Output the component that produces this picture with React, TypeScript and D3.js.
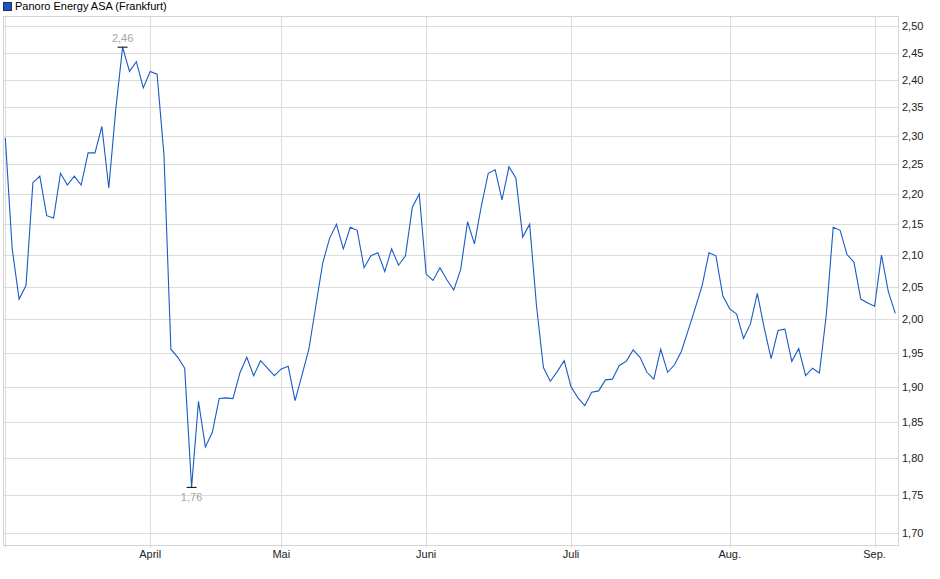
import React from 'react';
import * as d3 from 'd3';

// daily closing prices (EUR), Frankfurt
const prices: number[] = [
  2.296, 2.11, 2.031, 2.052, 2.219, 2.23, 2.164, 2.16, 2.235, 2.215,
  2.23, 2.215, 2.27, 2.27, 2.316, 2.21, 2.345, 2.46, 2.415, 2.433,
  2.385, 2.415, 2.41, 2.266, 1.955, 1.943, 1.927, 1.76, 1.879, 1.815,
  1.835, 1.883, 1.884, 1.883, 1.92, 1.943, 1.916, 1.938, 1.927, 1.916,
  1.926, 1.93, 1.88, 1.917, 1.955, 2.02, 2.087, 2.127, 2.15, 2.11,
  2.145, 2.14, 2.08, 2.099, 2.104, 2.074, 2.11, 2.084, 2.099, 2.178,
  2.2, 2.07, 2.06, 2.08, 2.061, 2.045, 2.077, 2.154, 2.118, 2.18,
  2.235, 2.241, 2.19, 2.246, 2.227, 2.129, 2.15, 2.02, 1.928, 1.908,
  1.922, 1.938, 1.9, 1.884, 1.873, 1.892, 1.894, 1.91, 1.911, 1.931,
  1.937, 1.954, 1.943, 1.921, 1.911, 1.955, 1.921, 1.932, 1.952, 1.984,
  2.017, 2.052, 2.104, 2.099, 2.036, 2.016, 2.008, 1.971, 1.993, 2.04,
  1.987, 1.941, 1.983, 1.985, 1.937, 1.956, 1.916, 1.927, 1.92, 2.007,
  2.145, 2.14, 2.101, 2.089, 2.031, 2.025, 2.02, 2.1, 2.042, 2.009,
];

// first trading day of each month (index into prices)
const monthIndex: number[] = [0, 21, 40, 61, 82, 105, 126];
const monthLabels: string[] = ['', 'April', 'Mai', 'Juni', 'Juli', 'Aug.', 'Sep.'];

const yTicks: number[] = [
  1.7, 1.75, 1.8, 1.85, 1.9, 1.95, 2.0, 2.05, 2.1, 2.15, 2.2, 2.25, 2.3, 2.35, 2.4, 2.45, 2.5,
];

const seriesName = 'Panoro Energy ASA (Frankfurt)';

const width = 940;
const height = 579;
const plot = { left: 3, right: 898, top: 16, bottom: 545 };
const font = '"Liberation Sans", Arial, sans-serif';
const fmt = (v: number) => v.toFixed(2).replace('.', ',');

export default function App() {
  const x = d3
    .scaleLinear()
    .domain([0, prices.length - 1])
    .range([5.3, 895.3]);

  const y = d3.scaleLog().domain([1.6845, 2.519]).range([plot.bottom, plot.top]);

  const line = d3
    .line<number>()
    .x((_, i) => x(i))
    .y(d => y(d));

  const maxIdx = d3.maxIndex(prices);
  const minIdx = d3.minIndex(prices);

  return (
    <svg
      width={width}
      height={height}
      style={{ position: 'absolute', left: 0, top: 0, background: '#fff' }}
      fontFamily={font}
    >
      {/* legend */}
      <rect x={3.5} y={2.5} width={8} height={8} fill="#1a56c0" stroke="#1b2f66" />
      <text x={15} y={10} fontSize={11} fill="#000">
        {seriesName}
      </text>

      {/* horizontal grid + right axis labels */}
      {yTicks.map(t => (
        <g key={t}>
          <line
            x1={plot.left}
            x2={plot.right}
            y1={Math.round(y(t)) + 0.5}
            y2={Math.round(y(t)) + 0.5}
            stroke="#dcdcdc"
          />
          <text x={902} y={y(t) + 4} fontSize={11} fill="#222">
            {fmt(t)}
          </text>
        </g>
      ))}

      {/* vertical month grid */}
      {monthIndex.map((m, i) => (
        <g key={m}>
          <line
            x1={Math.round(x(m)) + 0.5}
            x2={Math.round(x(m)) + 0.5}
            y1={plot.top}
            y2={plot.bottom + 3}
            stroke="#dcdcdc"
          />
          {monthLabels[i] && (
            <text x={x(m)} y={558} fontSize={11} fill="#222" textAnchor="middle">
              {monthLabels[i]}
            </text>
          )}
        </g>
      ))}

      {/* frame */}
      <rect
        x={plot.left + 0.5}
        y={plot.top + 0.5}
        width={plot.right - plot.left}
        height={plot.bottom - plot.top}
        fill="none"
        stroke="#d4d4d4"
      />

      {/* price line */}
      <path d={line(prices) ?? ''} fill="none" stroke="#1a5bc4" strokeWidth={1.1} />

      {/* high / low markers */}
      <line
        x1={x(maxIdx) - 5}
        x2={x(maxIdx) + 5}
        y1={y(prices[maxIdx])}
        y2={y(prices[maxIdx])}
        stroke="#000"
      />
      <text
        x={x(maxIdx)}
        y={y(prices[maxIdx]) - 5}
        fontSize={11}
        fill="#a9a39c"
        textAnchor="middle"
      >
        {fmt(prices[maxIdx])}
      </text>
      <line
        x1={x(minIdx) - 5}
        x2={x(minIdx) + 5}
        y1={y(prices[minIdx])}
        y2={y(prices[minIdx])}
        stroke="#000"
      />
      <text
        x={x(minIdx)}
        y={y(prices[minIdx]) + 14}
        fontSize={11}
        fill="#a9a39c"
        textAnchor="middle"
      >
        {fmt(prices[minIdx])}
      </text>
    </svg>
  );
}
